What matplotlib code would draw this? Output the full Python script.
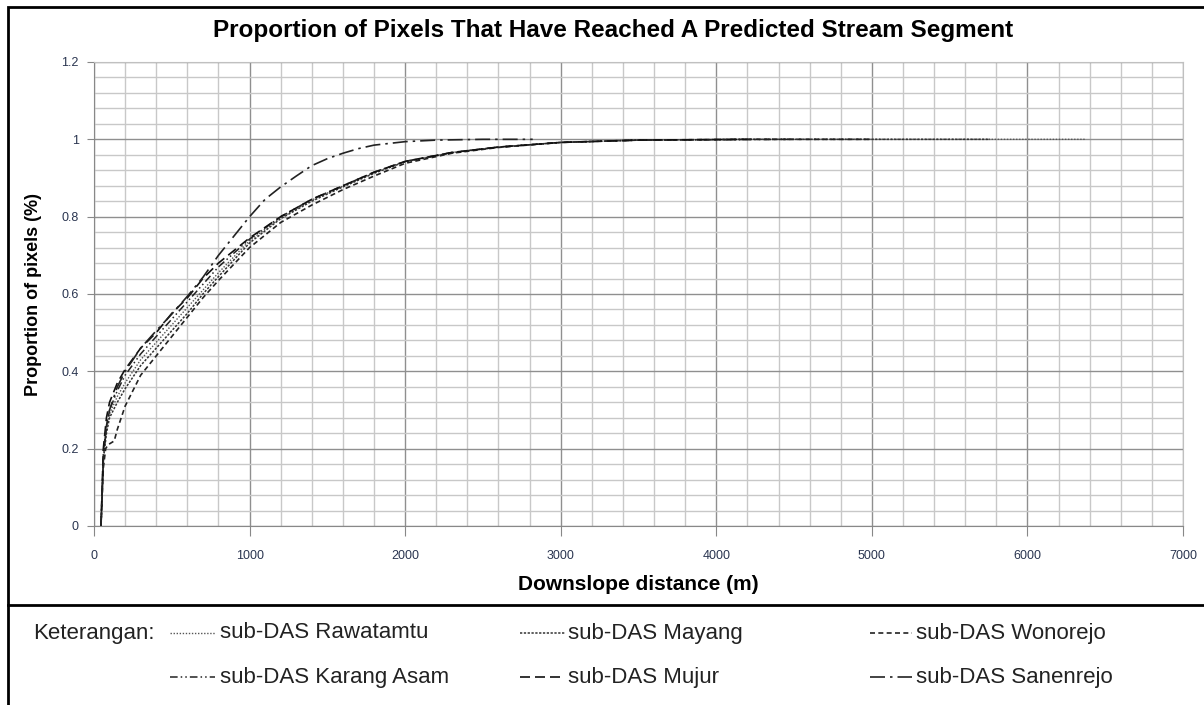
import matplotlib
matplotlib.use('Agg')
import matplotlib.pyplot as plt
from matplotlib.lines import Line2D
from matplotlib.patches import Rectangle
from matplotlib.ticker import MultipleLocator

plt.rcParams['font.family'] = ['Liberation Sans', 'DejaVu Sans']

# Data (downslope distance in m, proportion of pixels)
rawatamtu_x = [45, 60, 80, 100, 150, 200, 300, 400, 500, 600, 700, 800, 1000, 1200, 1400, 1600, 1800, 2000, 2300, 2600, 3000, 3500, 4200, 5000, 6370]
rawatamtu_y = [0, 0.18, 0.25, 0.29, 0.335, 0.37, 0.43, 0.475, 0.52, 0.565, 0.61, 0.655, 0.738, 0.797, 0.843, 0.879, 0.914, 0.943, 0.966, 0.98, 0.992, 0.998, 1.0, 1.0, 1.0]

mayang_x = [45, 60, 80, 100, 150, 200, 300, 400, 500, 600, 700, 800, 1000, 1200, 1400, 1600, 1800, 2000, 2300, 2600, 3000, 3500, 4200, 5760]
mayang_y = [0, 0.17, 0.24, 0.28, 0.32, 0.355, 0.415, 0.46, 0.505, 0.55, 0.6, 0.645, 0.732, 0.795, 0.84, 0.877, 0.912, 0.942, 0.965, 0.98, 0.992, 0.998, 1.0, 1.0]

wonorejo_x = [45, 60, 75, 90, 110, 130, 150, 200, 300, 400, 500, 600, 700, 800, 1000, 1200, 1400, 1600, 1800, 2000, 2300, 2600, 3000, 3500, 4200, 5000]
wonorejo_y = [0, 0.15, 0.2, 0.21, 0.215, 0.22, 0.25, 0.31, 0.39, 0.44, 0.49, 0.54, 0.59, 0.635, 0.72, 0.785, 0.83, 0.87, 0.905, 0.938, 0.964, 0.979, 0.992, 0.998, 1.0, 1.0]

karangasam_x = [45, 60, 80, 100, 150, 200, 300, 400, 500, 600, 700, 800, 1000, 1200, 1400, 1600, 1800, 2000, 2300, 2600, 3000, 3500, 4500]
karangasam_y = [0, 0.19, 0.26, 0.30, 0.35, 0.39, 0.445, 0.49, 0.535, 0.58, 0.625, 0.67, 0.742, 0.80, 0.845, 0.88, 0.915, 0.943, 0.966, 0.98, 0.992, 0.998, 1.0]

mujur_x = [45, 60, 80, 100, 150, 200, 300, 400, 500, 600, 700, 800, 1000, 1200, 1400, 1600, 1800, 2000, 2300, 2600, 3000, 3500, 4200]
mujur_y = [0, 0.2, 0.28, 0.32, 0.37, 0.405, 0.46, 0.50, 0.55, 0.59, 0.64, 0.68, 0.745, 0.80, 0.845, 0.88, 0.915, 0.943, 0.966, 0.98, 0.992, 0.998, 1.0]

sanenrejo_x = [45, 60, 75, 100, 150, 200, 300, 400, 500, 600, 700, 800, 900, 1000, 1100, 1200, 1300, 1400, 1500, 1600, 1700, 1800, 2000, 2200, 2500, 2820]
sanenrejo_y = [0, 0.17, 0.24, 0.30, 0.36, 0.40, 0.46, 0.505, 0.548, 0.594, 0.643, 0.70, 0.75, 0.80, 0.845, 0.877, 0.905, 0.932, 0.95, 0.964, 0.976, 0.985, 0.994, 0.998, 1.0, 1.0]

labels = ['sub-DAS Rawatamtu', 'sub-DAS Mayang', 'sub-DAS Wonorejo',
          'sub-DAS Karang Asam', 'sub-DAS Mujur', 'sub-DAS Sanenrejo']

series = [
    (rawatamtu_x, rawatamtu_y, dict(color='#555555', lw=1.0, linestyle=(0, (1, 1.2)))),
    (mayang_x, mayang_y, dict(color='#333333', lw=1.1, linestyle=(0, (1.5, 1)))),
    (wonorejo_x, wonorejo_y, dict(color='#222222', lw=1.2, linestyle=(0, (3, 2)))),
    (karangasam_x, karangasam_y, dict(color='#222222', lw=1.1, linestyle=(0, (5, 2, 1, 2, 1, 2)))),
    (mujur_x, mujur_y, dict(color='#111111', lw=1.2, linestyle=(0, (6, 3)))),
    (sanenrejo_x, sanenrejo_y, dict(color='#222222', lw=1.2, linestyle=(0, (9, 3, 1.5, 3)))),
]

fig = plt.figure(figsize=(12.04, 7.05), dpi=100)
ax = fig.add_axes([94 / 1204, 1 - 526 / 705, (1183 - 94) / 1204, (526 - 62) / 705])

for x, y, style in series:
    ax.plot(x, y, **style)

ax.set_xlim(0, 7000)
ax.set_ylim(0, 1.2)
ax.xaxis.set_major_locator(MultipleLocator(1000))
ax.xaxis.set_minor_locator(MultipleLocator(200))
ax.yaxis.set_minor_locator(MultipleLocator(0.04))
ax.set_yticks([0, 0.2, 0.4, 0.6, 0.8, 1.0, 1.2])
ax.set_yticklabels(['0', '0.2', '0.4', '0.6', '0.8', '1', '1.2'])

ax.grid(which='major', color='#8f8f8f', linewidth=1.0)
ax.grid(which='minor', color='#c8c8c8', linewidth=1.0)
ax.set_axisbelow(True)

ax.tick_params(axis='both', which='major', labelsize=9, labelcolor='#2a3550',
               color='#888888', direction='out')
ax.tick_params(axis='x', which='major', length=7, pad=10)
ax.tick_params(axis='y', which='major', length=5, pad=6)
ax.tick_params(which='minor', length=0)
for side in ['left', 'bottom']:
    ax.spines[side].set_color('#888888')
for side in ['top', 'right']:
    ax.spines[side].set_color('#c0c0c0')

ax.set_xlabel('Downslope distance (m)', fontsize=15, fontweight='bold', labelpad=10)
ax.set_ylabel('Proportion of pixels (%)', fontsize=13, fontweight='bold', labelpad=14)
fig.text(613 / 1204, 1 - 30 / 705, 'Proportion of Pixels That Have Reached A Predicted Stream Segment',
         ha='center', va='center', fontsize=17.5, fontweight='bold')

# Outer frame and separator above the legend
fig.add_artist(Rectangle((8 / 1204, -0.05), 1.2, 1.05 - 7 / 705, transform=fig.transFigure,
                         fill=False, edgecolor='black', linewidth=2))
fig.add_artist(Line2D([8 / 1204, 1], [1 - 605 / 705] * 2, transform=fig.transFigure,
                      color='black', linewidth=2))

# Legend ("Keterangan")
fig.text(33 / 1204, 1 - 633 / 705, 'Keterangan:', ha='left', va='center', fontsize=16, color='#222222')
line_pos = [(170, 215, 220), (520, 565, 568), (870, 912, 916)]
row_y = [633, 677]
for i, (lab, (_, _, style)) in enumerate(zip(labels, series)):
    x0, x1, xt = line_pos[i % 3]
    yy = 1 - row_y[i // 3] / 705
    fig.add_artist(Line2D([x0 / 1204, x1 / 1204], [yy, yy], transform=fig.transFigure, **style))
    fig.text(xt / 1204, yy, lab, ha='left', va='center', fontsize=16, color='#222222')

fig.savefig('out.png', dpi=100)
